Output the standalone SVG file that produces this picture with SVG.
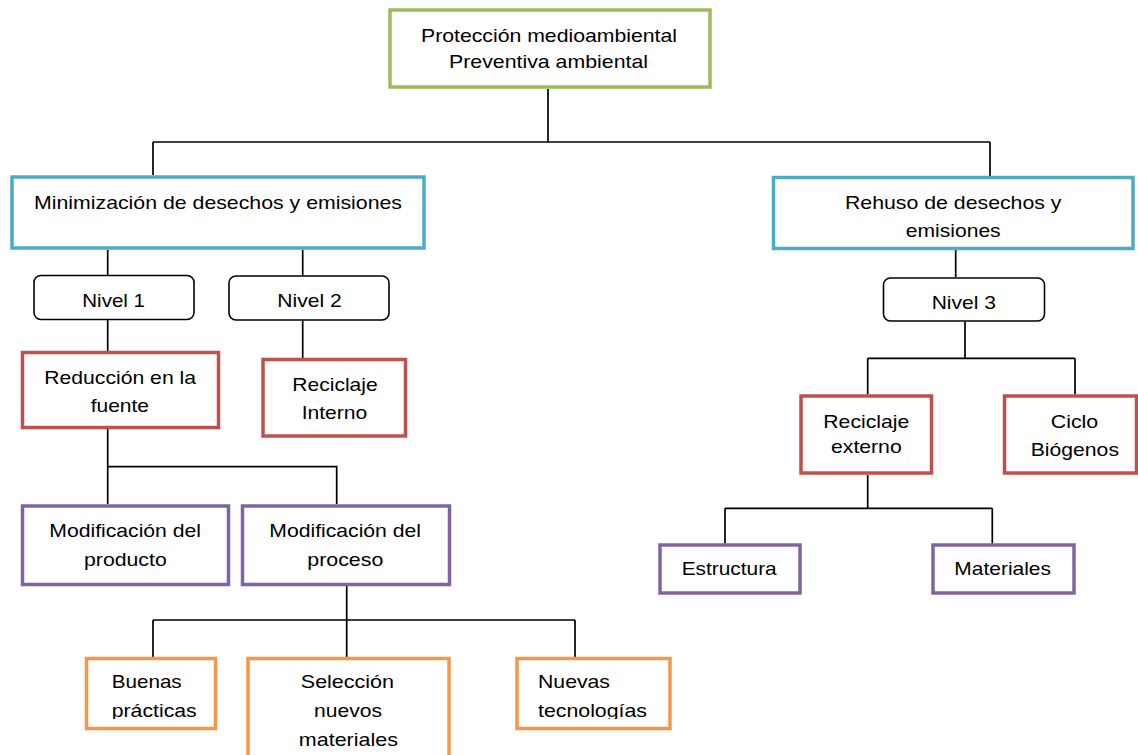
<svg xmlns="http://www.w3.org/2000/svg" width="1138" height="755" viewBox="0 0 1138 755">
  <style>
    .box { fill: #ffffff; stroke-width: 3.5; }
    .green { stroke: #9BBB59; }
    .blue { stroke: #4BACC6; }
    .red { stroke: #C0504D; }
    .purple { stroke: #8064A2; }
    .orange { stroke: #F79646; }
    .level { fill: #ffffff; stroke: #000000; stroke-width: 1.6; }
    .wire { fill: none; stroke: #000000; stroke-width: 1.7; }
    text { font-family: "Liberation Sans", Arial, sans-serif; font-size: 18.5px; fill: #000000; }
  </style>
  <defs>
    <clipPath id="clip-bottom-row">
      <rect x="0" y="600" width="1138" height="119"/>
    </clipPath>
    <clipPath id="clip-level3">
      <rect x="880" y="270" width="170" height="39"/>
    </clipPath>
  </defs>
  <rect width="1138" height="755" fill="#ffffff"/>

  <!-- connectors -->
  <g id="connectors">
    <path class="wire" d="M548,89 V142 M153,142 H990 M153,142 V175 M990,142 V176"/>
    <path class="wire" d="M107.7,250 V275 M302.7,250 V276"/>
    <path class="wire" d="M107.7,320 V351 M302.7,320 V358"/>
    <path class="wire" d="M107.7,429 V504 M107.7,466.7 H336.7 V504"/>
    <path class="wire" d="M955.7,250 V277"/>
    <path class="wire" d="M965,322 V358.3 M867.7,358.3 H1075 M867.7,358.3 V394.5 M1075,358.3 V394.5"/>
    <path class="wire" d="M867.7,475 V508.3 M725,508.3 H992.3 M725,508.3 V543.5 M992.3,508.3 V543.5"/>
    <path class="wire" d="M346.7,586 V657 M153,620 H575 M153,620 V657 M575,620 V657"/>
  </g>

  <g id="node-proteccion">
    <rect class="box green" x="390" y="10" width="320" height="77"/>
    <text x="421" y="41.5" textLength="256" lengthAdjust="spacingAndGlyphs">Protección medioambiental</text>
    <text x="449" y="68.3" textLength="199" lengthAdjust="spacingAndGlyphs">Preventiva ambiental</text>
  </g>

  <g id="node-minimizacion">
    <rect class="box blue" x="12" y="177" width="412" height="71"/>
    <text x="34" y="209.3" textLength="368" lengthAdjust="spacingAndGlyphs">Minimización de desechos y emisiones</text>
  </g>

  <g id="node-rehuso">
    <rect class="box blue" x="773.5" y="177.5" width="359.5" height="71"/>
    <text x="845" y="209.3" textLength="216.5" lengthAdjust="spacingAndGlyphs">Rehuso de desechos y</text>
    <text x="905.7" y="236.7" textLength="95" lengthAdjust="spacingAndGlyphs">emisiones</text>
  </g>

  <g id="node-nivel1">
    <rect class="level" x="34" y="275.5" width="160" height="44" rx="7"/>
    <text x="82.3" y="307.3" textLength="62.7" lengthAdjust="spacingAndGlyphs">Nivel 1</text>
  </g>

  <g id="node-nivel2">
    <rect class="level" x="229" y="276" width="160" height="44" rx="7"/>
    <text x="277.3" y="307.3" textLength="64.4" lengthAdjust="spacingAndGlyphs">Nivel 2</text>
  </g>

  <g id="node-nivel3">
    <rect class="level" x="883.5" y="278" width="161" height="43" rx="7"/>
    <text clip-path="url(#clip-level3)" x="931.7" y="308.6" textLength="64.3" lengthAdjust="spacingAndGlyphs">Nivel 3</text>
  </g>

  <g id="node-reduccion">
    <rect class="box red" x="22.5" y="352.5" width="196" height="75"/>
    <text x="44.3" y="384" textLength="151.7" lengthAdjust="spacingAndGlyphs">Reducción en la</text>
    <text x="90.7" y="412.3" textLength="58.3" lengthAdjust="spacingAndGlyphs">fuente</text>
  </g>

  <g id="node-reciclaje-interno">
    <rect class="box red" x="263" y="359.5" width="142.5" height="76.5"/>
    <text x="292.3" y="390.5" textLength="85.4" lengthAdjust="spacingAndGlyphs">Reciclaje</text>
    <text x="301.7" y="419" textLength="65.6" lengthAdjust="spacingAndGlyphs">Interno</text>
  </g>

  <g id="node-reciclaje-externo">
    <rect class="box red" x="801" y="396" width="130.5" height="77"/>
    <text x="823.3" y="427.7" textLength="86" lengthAdjust="spacingAndGlyphs">Reciclaje</text>
    <text x="831" y="452.5" textLength="70.7" lengthAdjust="spacingAndGlyphs">externo</text>
  </g>

  <g id="node-ciclo">
    <rect class="box red" x="1004.5" y="396" width="132" height="77"/>
    <text x="1050.7" y="427.7" textLength="47.6" lengthAdjust="spacingAndGlyphs">Ciclo</text>
    <text x="1030.7" y="456" textLength="88.3" lengthAdjust="spacingAndGlyphs">Biógenos</text>
  </g>

  <g id="node-mod-producto">
    <rect class="box purple" x="22.5" y="506" width="206" height="78.5"/>
    <text x="49.3" y="537.3" textLength="151.7" lengthAdjust="spacingAndGlyphs">Modificación del</text>
    <text x="84" y="565.6" textLength="82.7" lengthAdjust="spacingAndGlyphs">producto</text>
  </g>

  <g id="node-mod-proceso">
    <rect class="box purple" x="242.5" y="506" width="207" height="78.5"/>
    <text x="269.3" y="537.3" textLength="151.7" lengthAdjust="spacingAndGlyphs">Modificación del</text>
    <text x="307.3" y="565.6" textLength="76" lengthAdjust="spacingAndGlyphs">proceso</text>
  </g>

  <g id="node-estructura">
    <rect class="box purple" x="660" y="545" width="140" height="48"/>
    <text x="681.7" y="575" textLength="95" lengthAdjust="spacingAndGlyphs">Estructura</text>
  </g>

  <g id="node-materiales">
    <rect class="box purple" x="933" y="545" width="141" height="48"/>
    <text x="954.3" y="575" textLength="96.7" lengthAdjust="spacingAndGlyphs">Materiales</text>
  </g>

  <g id="node-buenas">
    <rect class="box orange" x="86.5" y="658.5" width="129" height="70"/>
    <g clip-path="url(#clip-bottom-row)">
      <text x="111.7" y="688.3" textLength="70" lengthAdjust="spacingAndGlyphs">Buenas</text>
      <text x="111.7" y="716.5" textLength="85" lengthAdjust="spacingAndGlyphs">prácticas</text>
    </g>
  </g>

  <g id="node-seleccion">
    <rect class="box orange" x="248" y="658.5" width="201" height="120"/>
    <text x="300.8" y="688.3" textLength="93.2" lengthAdjust="spacingAndGlyphs">Selección</text>
    <text x="314" y="716.7" textLength="68" lengthAdjust="spacingAndGlyphs">nuevos</text>
    <text x="298.8" y="745.5" textLength="99.2" lengthAdjust="spacingAndGlyphs">materiales</text>
  </g>

  <g id="node-nuevas">
    <rect class="box orange" x="517" y="658.5" width="153" height="70"/>
    <g clip-path="url(#clip-bottom-row)">
      <text x="538" y="688.3" textLength="72" lengthAdjust="spacingAndGlyphs">Nuevas</text>
      <text x="538" y="716.5" textLength="109" lengthAdjust="spacingAndGlyphs">tecnologías</text>
    </g>
  </g>
</svg>
